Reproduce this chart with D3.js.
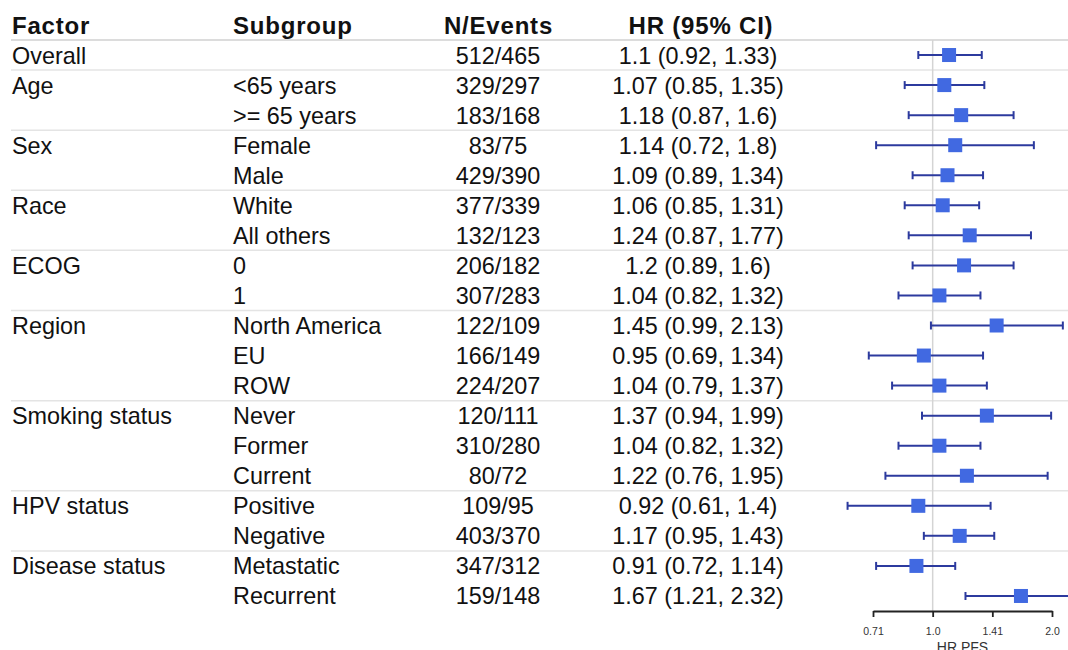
<!DOCTYPE html>
<html>
<head>
<meta charset="utf-8">
<script src="https://cdn.jsdelivr.net/npm/d3@7"></script>
<style>
  html, body { margin: 0; padding: 0; background: #fff; overflow: hidden; }
  svg { display: block; font-family: "Liberation Sans", Arial, Helvetica, sans-serif; }
</style>
</head>
<body>
<svg id="chart" width="1068" height="650"></svg>
<script>
const headers = ["Factor", "Subgroup", "N/Events", "HR (95% CI)"];
const factors = ["Overall", "Age", "", "Sex", "", "Race", "", "ECOG", "", "Region", "", "", "Smoking status", "", "", "HPV status", "", "Disease status", ""];
const subgroups = ["", "<65 years", ">= 65 years", "Female", "Male", "White", "All others", "0", "1", "North America", "EU", "ROW", "Never", "Former", "Current", "Positive", "Negative", "Metastatic", "Recurrent"];
const nEvents = ["512/465", "329/297", "183/168", "83/75", "429/390", "377/339", "132/123", "206/182", "307/283", "122/109", "166/149", "224/207", "120/111", "310/280", "80/72", "109/95", "403/370", "347/312", "159/148"];
const hr = [1.1, 1.07, 1.18, 1.14, 1.09, 1.06, 1.24, 1.2, 1.04, 1.45, 0.95, 1.04, 1.37, 1.04, 1.22, 0.92, 1.17, 0.91, 1.67];
const lower = [0.92, 0.85, 0.87, 0.72, 0.89, 0.85, 0.87, 0.89, 0.82, 0.99, 0.69, 0.79, 0.94, 0.82, 0.76, 0.61, 0.95, 0.72, 1.21];
const upper = [1.33, 1.35, 1.6, 1.8, 1.34, 1.31, 1.77, 1.6, 1.32, 2.13, 1.34, 1.37, 1.99, 1.32, 1.95, 1.4, 1.43, 1.14, 2.32];
const hrLabels = ["1.1 (0.92, 1.33)", "1.07 (0.85, 1.35)", "1.18 (0.87, 1.6)", "1.14 (0.72, 1.8)", "1.09 (0.89, 1.34)", "1.06 (0.85, 1.31)", "1.24 (0.87, 1.77)", "1.2 (0.89, 1.6)", "1.04 (0.82, 1.32)", "1.45 (0.99, 2.13)", "0.95 (0.69, 1.34)", "1.04 (0.79, 1.37)", "1.37 (0.94, 1.99)", "1.04 (0.82, 1.32)", "1.22 (0.76, 1.95)", "0.92 (0.61, 1.4)", "1.17 (0.95, 1.43)", "0.91 (0.72, 1.14)", "1.67 (1.21, 2.32)"];
const groupEnds = [0, 2, 4, 6, 8, 11, 14, 16]; // rows after which a separator is drawn
const tickValues = [Math.SQRT1_2, 1, Math.SQRT2, 2];
const tickLabels = ["0.71", "1.0", "1.41", "2.0"];
const axisTitle = "HR PFS";

const svg = d3.select("#chart");
const W = 1068;
const idx = d3.range(hr.length);

const y = d3.scaleBand().domain(idx).range([40, 611]).padding(0);
const cy = i => y(i) + y.bandwidth() / 2;
const x = d3.scaleLog().base(2).domain([Math.SQRT1_2, 2]).range([873, 1052]);

// separators
svg.append("line").attr("x1", 11).attr("x2", W).attr("y1", 40).attr("y2", 40)
  .attr("stroke", "#dcdcdc").attr("stroke-width", 2);
svg.selectAll("line.sep").data(groupEnds).join("line").attr("class", "sep")
  .attr("x1", 11).attr("x2", W)
  .attr("y1", d => y(d) + y.bandwidth()).attr("y2", d => y(d) + y.bandwidth())
  .attr("stroke", "#e4e4e4").attr("stroke-width", 1.5);

// reference line
svg.append("line").attr("x1", x(1)).attr("x2", x(1)).attr("y1", 40).attr("y2", 611)
  .attr("stroke", "#d4d4d4").attr("stroke-width", 1.5);

// headers
const hx = [12, 233, 498.5, 701];
const hanchor = ["start", "start", "middle", "middle"];
svg.selectAll("text.hdr").data(headers).join("text").attr("class", "hdr")
  .attr("x", (d, i) => hx[i]).attr("y", 34)
  .attr("text-anchor", (d, i) => hanchor[i])
  .attr("font-size", 24).attr("font-weight", "bold").attr("letter-spacing", "0.8px")
  .attr("fill", "#111").text(d => d);

// table text
const rowText = (cls, arr, xx, anchor) => svg.selectAll("text." + cls).data(idx).join("text")
  .attr("class", cls).attr("x", xx).attr("y", i => cy(i) + 8.5)
  .attr("text-anchor", anchor).attr("font-size", 23.4).attr("fill", "#111")
  .text(i => arr[i]);
rowText("fac", factors, 12, "start");
rowText("sub", subgroups, 233, "start");
rowText("nev", nEvents, 498, "middle");
rowText("hrl", hrLabels, 698, "middle");

// CIs
const ciColor = "#2c3a9e";
const g = svg.append("g");
g.selectAll("line.ci").data(idx).join("line").attr("class", "ci")
  .attr("x1", i => x(lower[i])).attr("x2", i => x(upper[i]))
  .attr("y1", cy).attr("y2", cy).attr("stroke", ciColor).attr("stroke-width", 2);
g.selectAll("line.capl").data(idx).join("line").attr("class", "capl")
  .attr("x1", i => x(lower[i])).attr("x2", i => x(lower[i]))
  .attr("y1", i => cy(i) - 4).attr("y2", i => cy(i) + 4).attr("stroke", ciColor).attr("stroke-width", 2);
g.selectAll("line.capu").data(idx.filter(i => upper[i] <= 2.2)).join("line").attr("class", "capu")
  .attr("x1", i => x(upper[i])).attr("x2", i => x(upper[i]))
  .attr("y1", i => cy(i) - 4).attr("y2", i => cy(i) + 4).attr("stroke", ciColor).attr("stroke-width", 2);
const s = 14;
g.selectAll("rect.pt").data(idx).join("rect").attr("class", "pt")
  .attr("x", i => x(hr[i]) - s / 2).attr("y", i => cy(i) - s / 2)
  .attr("width", s).attr("height", s).attr("fill", "#4169e1");

// axis
const ax = svg.append("g").attr("transform", "translate(0,611)")
  .call(d3.axisBottom(x).tickValues(tickValues).tickFormat((d, i) => tickLabels[i]).tickSize(6).tickPadding(11).tickSizeOuter(0));
ax.select(".domain").attr("stroke", "#222").attr("stroke-width", 1.8);
ax.selectAll(".tick line").attr("stroke", "#222").attr("stroke-width", 1.8);
ax.selectAll(".tick text").attr("font-size", 10.5).attr("fill", "#333")
  .attr("font-family", "'Liberation Sans', Arial, sans-serif");
svg.append("text").attr("x", (x.range()[0] + x.range()[1]) / 2).attr("y", 652)
  .attr("text-anchor", "middle").attr("font-size", 14).attr("fill", "#333").text(axisTitle);
</script>
</body>
</html>
